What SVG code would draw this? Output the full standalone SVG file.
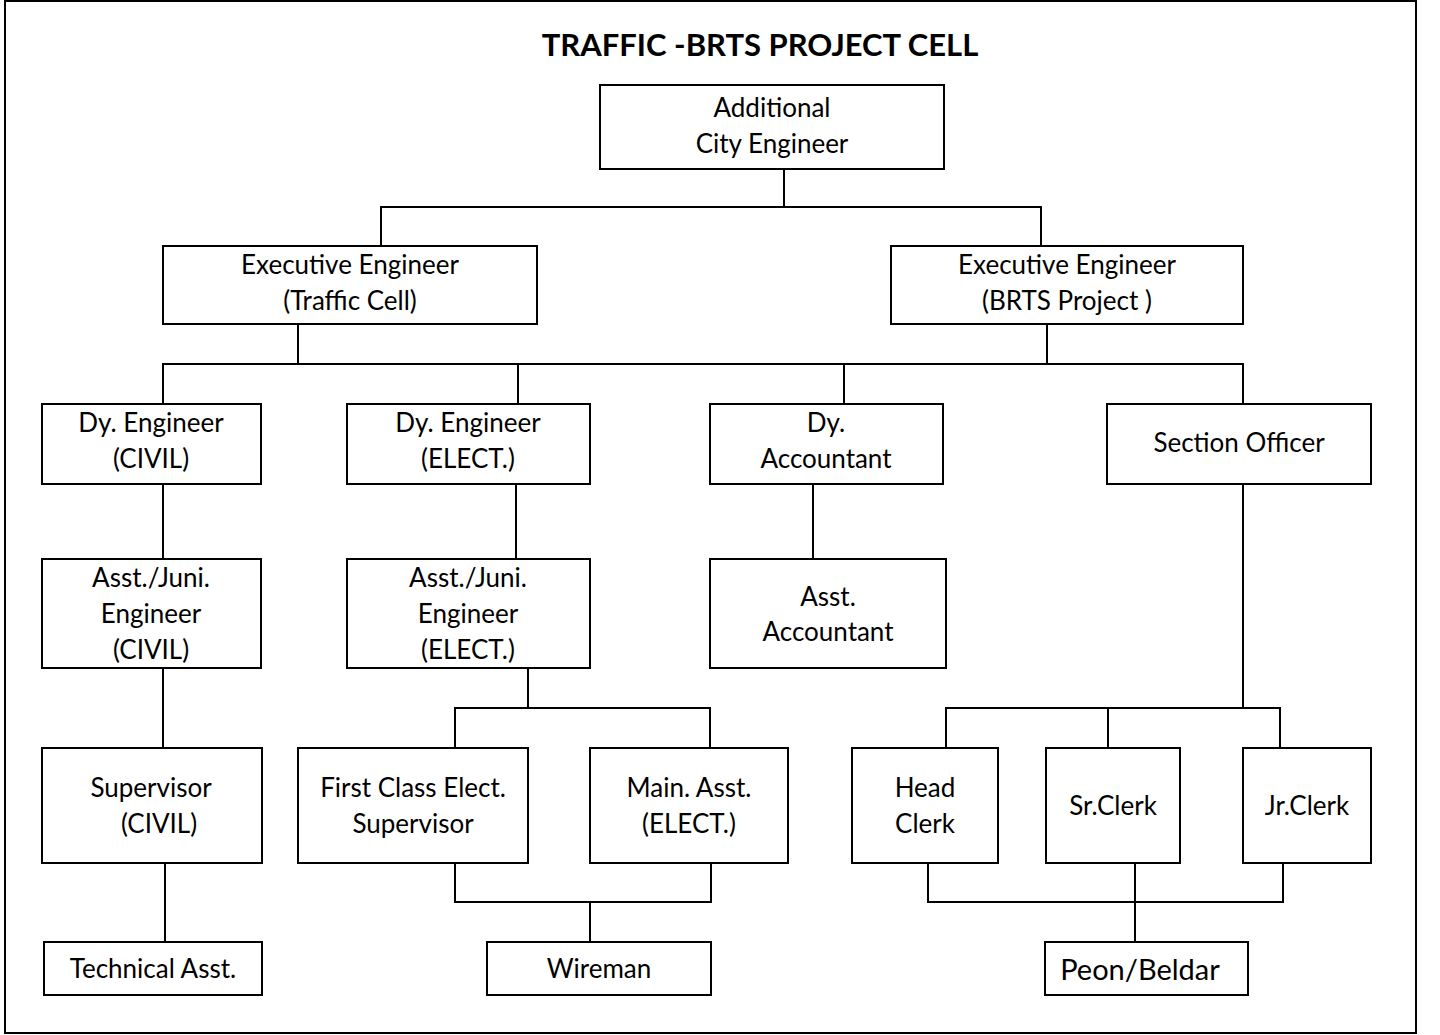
<svg xmlns="http://www.w3.org/2000/svg" width="1440" height="1035" viewBox="0 0 1440 1035">
<style>
.box{fill:#fff;stroke:#000;stroke-width:2}
.ln{stroke:#000;stroke-width:2;fill:none}
text{font-family:Lato,"Liberation Sans",sans-serif;font-size:26px;fill:#000;text-anchor:middle}
.title{font-weight:bold;font-size:31px}
</style>
<rect x="0" y="0" width="1440" height="1035" fill="#fff"/>
<rect x="5" y="1" width="1411" height="1032" class="ln"/>
<text class="title" x="760" y="56">TRAFFIC -BRTS PROJECT CELL</text>
<g id="connectors" class="ln">
<path d="M784 169V207M381 247V207H1041V247"/>
<path d="M298 324V364M1047 324V364M163 404V364H1243V404M518 364V404M844 364V404"/>
<path d="M163 484V559M516 484V559M813 484V559M1243 484V708"/>
<path d="M528 668V708M455 748V708H710V748"/>
<path d="M946 748V708H1280V748M1108 708V748"/>
<path d="M163 668V748M165 863V942"/>
<path d="M455 863V902H711V863M590 902V942"/>
<path d="M928 863V902H1283V863M1135 863V942"/>
</g>
<g id="n-ace"><rect class="box" x="600" y="85" width="344" height="84"/><text x="772" y="117">Additional</text><text x="772" y="153">City Engineer</text></g>
<g id="n-ee-traffic"><rect class="box" x="163" y="246" width="374" height="78"/><text x="350" y="274">Executive Engineer</text><text x="350" y="310">(Traffic Cell)</text></g>
<g id="n-ee-brts"><rect class="box" x="891" y="246" width="352" height="78"/><text x="1067" y="274">Executive Engineer</text><text x="1067" y="310">(BRTS Project )</text></g>
<g id="n-dy-civil"><rect class="box" x="42" y="404" width="219" height="80"/><text x="151" y="432">Dy. Engineer</text><text x="151" y="468">(CIVIL)</text></g>
<g id="n-dy-elect"><rect class="box" x="347" y="404" width="243" height="80"/><text x="468" y="432">Dy. Engineer</text><text x="468" y="468">(ELECT.)</text></g>
<g id="n-dy-acc"><rect class="box" x="710" y="404" width="233" height="80"/><text x="826" y="432">Dy.</text><text x="826" y="468">Accountant</text></g>
<g id="n-so"><rect class="box" x="1107" y="404" width="264" height="80"/><text x="1239" y="452">Section Officer</text></g>
<g id="n-aje-civil"><rect class="box" x="42" y="559" width="219" height="109"/><text x="151" y="587">Asst./Juni.</text><text x="151" y="623">Engineer</text><text x="151" y="659">(CIVIL)</text></g>
<g id="n-aje-elect"><rect class="box" x="347" y="559" width="243" height="109"/><text x="468" y="587">Asst./Juni.</text><text x="468" y="623">Engineer</text><text x="468" y="659">(ELECT.)</text></g>
<g id="n-asst-acc"><rect class="box" x="710" y="559" width="236" height="109"/><text x="828" y="606">Asst.</text><text x="828" y="641">Accountant</text></g>
<g id="n-sup-civil"><rect class="box" x="42" y="748" width="220" height="115"/><text x="151" y="797">Supervisor</text><text x="159" y="833">(CIVIL)</text></g>
<g id="n-fc"><rect class="box" x="298" y="748" width="230" height="115"/><text x="413" y="797">First Class Elect.</text><text x="413" y="833">Supervisor</text></g>
<g id="n-main"><rect class="box" x="590" y="748" width="198" height="115"/><text x="689" y="797">Main. Asst.</text><text x="689" y="833">(ELECT.)</text></g>
<g id="n-head"><rect class="box" x="852" y="748" width="146" height="115"/><text x="925" y="797">Head</text><text x="925" y="833">Clerk</text></g>
<g id="n-sr"><rect class="box" x="1046" y="748" width="134" height="115"/><text x="1113" y="815">Sr.Clerk</text></g>
<g id="n-jr"><rect class="box" x="1243" y="748" width="128" height="115"/><text x="1307" y="815">Jr.Clerk</text></g>
<g id="n-tech"><rect class="box" x="44" y="942" width="218" height="53"/><text x="153" y="978">Technical Asst.</text></g>
<g id="n-wire"><rect class="box" x="487" y="942" width="224" height="53"/><text x="599" y="978">Wireman</text></g>
<g id="n-peon"><rect class="box" x="1045" y="942" width="203" height="53"/><text x="1140" y="980" style="font-size:29px">Peon/Beldar</text></g>
</svg>
